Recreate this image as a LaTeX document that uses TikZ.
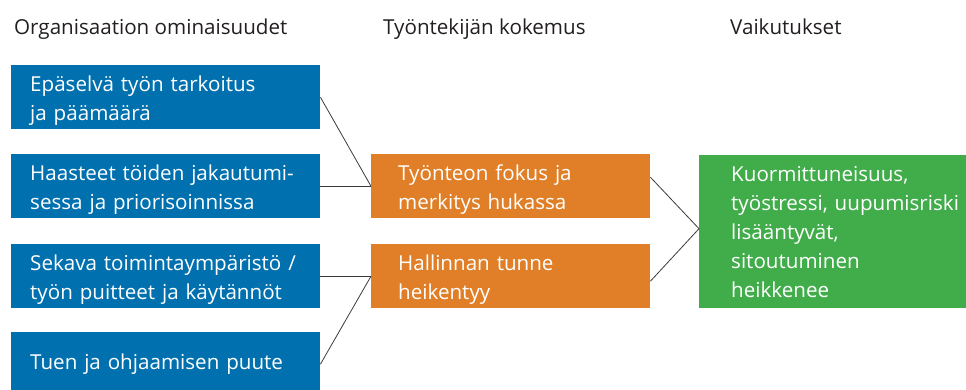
\documentclass[tikz,border=0pt]{standalone}
\usepackage{fontspec}
\setmainfont{Open Sans}
\definecolor{bblue}{HTML}{0070AF}
\definecolor{borange}{HTML}{E07F27}
\definecolor{bgreen}{HTML}{41AD4A}
\definecolor{htext}{HTML}{231F20}
\definecolor{lgray}{HTML}{3A3A3A}
\newcommand\mytstrut{\rule{0pt}{26pt}}
\newcommand\mybstrut{\rule[-8pt]{0pt}{8pt}}
\tikzset{
  hdr/.style={anchor=base west, inner sep=0pt, text=htext, font=\fontsize{20.6}{29}\selectfont},
  boxbase/.style={anchor=north west, draw=none, text=white, align=left, inner ysep=0pt,
     font=\fontsize{20.6}{29}\selectfont},
  bluebox/.style={boxbase, fill=bblue, text width=271pt, inner xsep=19pt, minimum height=64pt},
  orangebox/.style={boxbase, fill=borange, text width=225pt, inner xsep=27pt, minimum height=64pt},
  greenbox/.style={boxbase, fill=bgreen, text width=220pt, inner xsep=32pt, minimum height=153pt},
  conn/.style={draw=lgray, line width=0.8pt}
}
\begin{document}
\begin{tikzpicture}[x=1pt,y=-1pt]
\useasboundingbox (0,0) rectangle (966,389);
\node[hdr] (h1) at (14,34) {Organisaation ominaisuudet};
\node[hdr] (h2) at (383,34) {Työntekijän kokemus};
\node[hdr] (h3) at (730,34) {Vaikutukset};

\node[bluebox] (b1) at (11,65) {\mytstrut Epäselvä työn tarkoitus\\ja päämäärä\mybstrut};
\node[bluebox] (b2) at (11,154) {\mytstrut Haasteet töiden jakautumi-\\sessa ja priorisoinnissa\mybstrut};
\node[bluebox] (b3) at (11,244) {\mytstrut Sekava toimintaympäristö /\\työn puitteet ja käytännöt\mybstrut};
\node[bluebox] (b4) at (11,332) {Tuen ja ohjaamisen puute};

\node[orangebox] (o1) at (371,154) {\mytstrut Työnteon fokus ja\\merkitys hukassa\mybstrut};
\node[orangebox] (o2) at (371,244) {\mytstrut Hallinnan tunne\\heikentyy\mybstrut};

\node[greenbox] (g) at (699,155) {Kuormittuneisuus,\\\mbox{työstressi, uupumisriski}\\lisääntyvät,\\sitoutuminen\\heikkenee};

\draw[conn] (b1.east) -- (o1.west);
\draw[conn] (b2.east) -- (o1.west);
\draw[conn] (b3.east) -- (o2.west);
\draw[conn] (b4.east) -- (o2.west);
\draw[conn] ([yshift=9pt]o1.east) -- ([yshift=3pt]g.west);
\draw[conn] ([yshift=-5pt]o2.east) -- ([yshift=3pt]g.west);
\end{tikzpicture}
\end{document}
